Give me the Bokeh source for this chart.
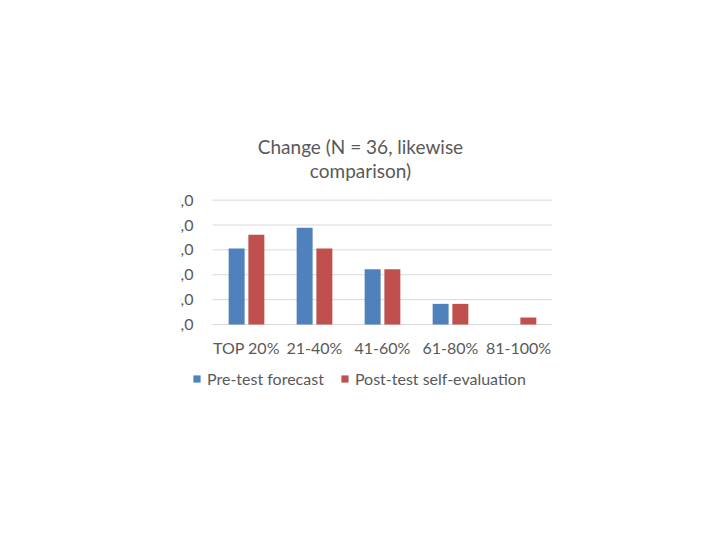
from bokeh.plotting import figure
from bokeh.models import Range1d, Legend, LegendItem, FixedTicker, Label
from bokeh.embed import file_html
from bokeh.resources import INLINE

categories = ["TOP 20%", "21-40%", "41-60%", "61-80%", "81-100%"]
pre_test = [30.6, 38.9, 22.2, 8.3, 0.0]
post_test = [36.1, 30.6, 22.2, 8.3, 2.8]
y_ticks = [0, 10, 20, 30, 40, 50]
y_tick_labels = [",0", "10,0", "20,0", "30,0", "40,0", "50,0"]
title_lines = ["Change (N = 36, likewise", "comparison)"]
series_names = ["Pre-test forecast", "Post-test self-evaluation"]

FONT = "Lato"
GRAY = "#595959"
BLUE = "#4f81bd"
RED = "#c0504d"
GRID = "#d9d9d9"

# frame extends around the plot area so title, labels and legend sit inside it
Y_TOP = 78.0
Y_BOTTOM = -27.34
X_LEFT = -0.4706
p = figure(frame_width=372, frame_height=262, output_backend="svg", toolbar_location=None,
           x_range=Range1d(X_LEFT, len(categories)), y_range=Range1d(Y_BOTTOM, Y_TOP),
           min_border_left=180, min_border_right=160, min_border_top=130,
           min_border_bottom=0)
p.background_fill_color = "white"
p.border_fill_color = "white"
p.outline_line_color = None
p.xgrid.grid_line_color = None
p.ygrid.grid_line_color = None

# gridlines (including the baseline at 0) only across the category area
p.segment(x0=[0] * len(y_ticks), x1=[len(categories)] * len(y_ticks),
          y0=y_ticks, y1=y_ticks, line_color=GRID, line_width=1)

xs = [i + 0.5 for i in range(len(categories))]
r1 = p.vbar(x=[x - 0.145 for x in xs], top=pre_test, width=0.235, fill_color=BLUE, line_color=None)
r2 = p.vbar(x=[x + 0.145 for x in xs], top=post_test, width=0.235, fill_color=RED, line_color=None)

p.xaxis.fixed_location = 0
p.xaxis.ticker = FixedTicker(ticks=xs)
p.xaxis.major_label_overrides = {x: c for x, c in zip(xs, categories)}
p.xaxis.major_tick_line_color = None
p.xaxis.minor_tick_line_color = None
p.xaxis.axis_line_color = None
p.xaxis.major_label_text_font = FONT
p.xaxis.major_label_text_font_size = "16px"
p.xaxis.major_label_text_color = GRAY
p.xaxis.major_label_standoff = 7

p.yaxis.fixed_location = 0
p.yaxis.ticker = FixedTicker(ticks=y_ticks)
p.yaxis.major_label_overrides = {t: l for t, l in zip(y_ticks, y_tick_labels)}
p.yaxis.major_tick_line_color = None
p.yaxis.minor_tick_line_color = None
p.yaxis.axis_line_color = None
p.yaxis.major_label_text_font = FONT
p.yaxis.major_label_text_font_size = "16px"
p.yaxis.major_label_text_color = GRAY
p.yaxis.major_label_standoff = 13

for line, yv in zip(title_lines, [71.6, 61.9]):
    p.add_layout(Label(x=2.176, y=yv, text=line, text_align="center", text_baseline="middle",
                       text_font=FONT, text_font_size="19px", text_color=GRAY))

legend = Legend(items=[LegendItem(label=series_names[0], renderers=[r1]),
                       LegendItem(label=series_names[1], renderers=[r2])],
                location=(12, 4), orientation="horizontal",
                label_text_font=FONT, label_text_font_size="16px", label_text_color=GRAY,
                glyph_width=9, glyph_height=9, label_standoff=6, spacing=16,
                padding=0, margin=0, border_line_alpha=0, background_fill_alpha=0)
p.add_layout(legend, "center")

open("out.html", "w").write(file_html(p, INLINE))
